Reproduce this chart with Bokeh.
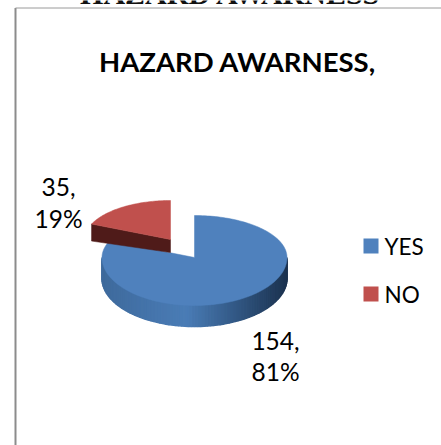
import math
from bokeh.plotting import figure
from bokeh.models import Range1d
from bokeh.core.properties import value
from bokeh.embed import file_html
from bokeh.resources import INLINE

categories = ["YES", "NO"]
counts = [154, 35]
percent_labels = ["81%", "19%"]
title_text = "HAZARD AWARNESS,"
heading_text = "HAZARD AWARNESS"

FONT = value("Lato")
TOP_BLUE = "#4f81bd"
TOP_RED = "#c0504d"
RED_WALL = "#4f1b19"
BLUE_STOPS = [(0.0, (62, 106, 156)), (0.45, (74, 124, 182)), (0.72, (50, 88, 132)), (1.0, (27, 49, 78))]

p = figure(width=441, height=445, output_backend="svg", toolbar_location=None,
           x_range=Range1d(0, 441), y_range=Range1d(445, 0),
           min_border=0, outline_line_color=None, background_fill_color="white")
p.axis.visible = False
p.grid.visible = False

# Page frame behind the chart
p.line([15, 15], [445, 7.5], line_color="#8c8c8c", line_width=2)
p.line([15, 441], [7.5, 7.5], line_color="#9a9a9a", line_width=1)
p.text([230], [-7.5], text=[heading_text], text_font=value("Liberation Serif"), text_font_size="30px",
       text_font_style="bold", text_align="center", text_baseline="middle", text_color="#111111")


def rim(cx, cy, rx, ry_up, ry_down, angle):
    """Projected rim point; angle is in degrees, clockwise from twelve o'clock."""
    a = math.radians(angle)
    c = math.cos(a)
    return cx + rx * math.sin(a), cy - (ry_up if c > 0 else ry_down) * c


def sweep(start, stop, steps=90):
    return [start + (stop - start) * i / steps for i in range(steps + 1)]


def side_color(t):
    t = min(max(t, 0), 1)
    for (t0, c0), (t1, c1) in zip(BLUE_STOPS, BLUE_STOPS[1:]):
        if t <= t1:
            f = (t - t0) / (t1 - t0)
            return "#%02x%02x%02x" % tuple(round(a + (b - a) * f) for a, b in zip(c0, c1))
    return "#1b314e"


total = sum(counts)
yes_sweep = 360 * counts[0] / total

# Large slice: centre and radii of its top face, plus wall depth
bx, by, brx, bry_up, bry_down, bdepth = 194, 257, 92.5, 42, 48, 21

# Curved outer wall of the large slice, lit along the horizontal
wall = sweep(90, 270, 90)
for a0, a1 in zip(wall[:-1], wall[1:]):
    x0, y0 = rim(bx, by, brx, bry_up, bry_down, a0)
    x1, y1 = rim(bx, by, brx, bry_up, bry_down, a1)
    t = (0.5 * (x0 + x1) - (bx - brx)) / (2 * brx)
    p.patch([x0, x1, x1, x0], [y0, y1, y1 + bdepth, y0 + bdepth],
            fill_color=side_color(t), line_color=side_color(t), line_width=1.5)

# Top face of the large slice
angles = sweep(0, yes_sweep, 180)
pts = [rim(bx, by, brx, bry_up, bry_down, a) for a in angles]
p.patch([bx] + [q[0] for q in pts], [by] + [q[1] for q in pts],
        fill_color=TOP_BLUE, line_color=TOP_BLUE, line_width=0.5)

# Small slice, pulled out toward the upper left
rx_c, ry_c, rrx, rry_up, rry_down, rdepth_tip, rdepth_rim = 170, 239, 86, 39, 45, 13, 17
red_angles = sweep(yes_sweep, 360, 60)
red_pts = [rim(rx_c, ry_c, rrx, rry_up, rry_down, a) for a in red_angles]
left_x, left_y = red_pts[0]
p.patch([left_x, rx_c, rx_c, left_x],
        [left_y, ry_c, ry_c + rdepth_tip, left_y + rdepth_rim],
        fill_color=RED_WALL, line_color=RED_WALL, line_width=0.5)
p.patch([rx_c] + [q[0] for q in red_pts], [ry_c] + [q[1] for q in red_pts],
        fill_color=TOP_RED, line_color=TOP_RED, line_width=0.5)

# Title
p.text([237], [61], text=[title_text], text_font=FONT, text_font_size="27.5px",
       text_font_style="bold", text_align="center", text_baseline="middle", text_color="#000000")

# Data labels
label_style = dict(text_font=FONT, text_font_size="24.5px", text_align="center",
                   text_baseline="middle", text_color="#000000")
p.text([58, 58], [186, 218], text=[f"{counts[1]},", percent_labels[1]], **label_style)
p.text([275, 275], [340, 371], text=[f"{counts[0]},", percent_labels[0]], **label_style)

# Legend
swatch_colors = [TOP_BLUE, TOP_RED]
legend_y = [245.5, 293.5]
p.rect([370.5, 370.5], legend_y, width=15, height=15, fill_color=swatch_colors, line_color=None)
p.text([384, 384], legend_y, text=categories, text_font=FONT, text_font_size="22.5px",
       text_align="left", text_baseline="middle", text_color="#000000")

open("out.html", "w").write(file_html(p, INLINE))
